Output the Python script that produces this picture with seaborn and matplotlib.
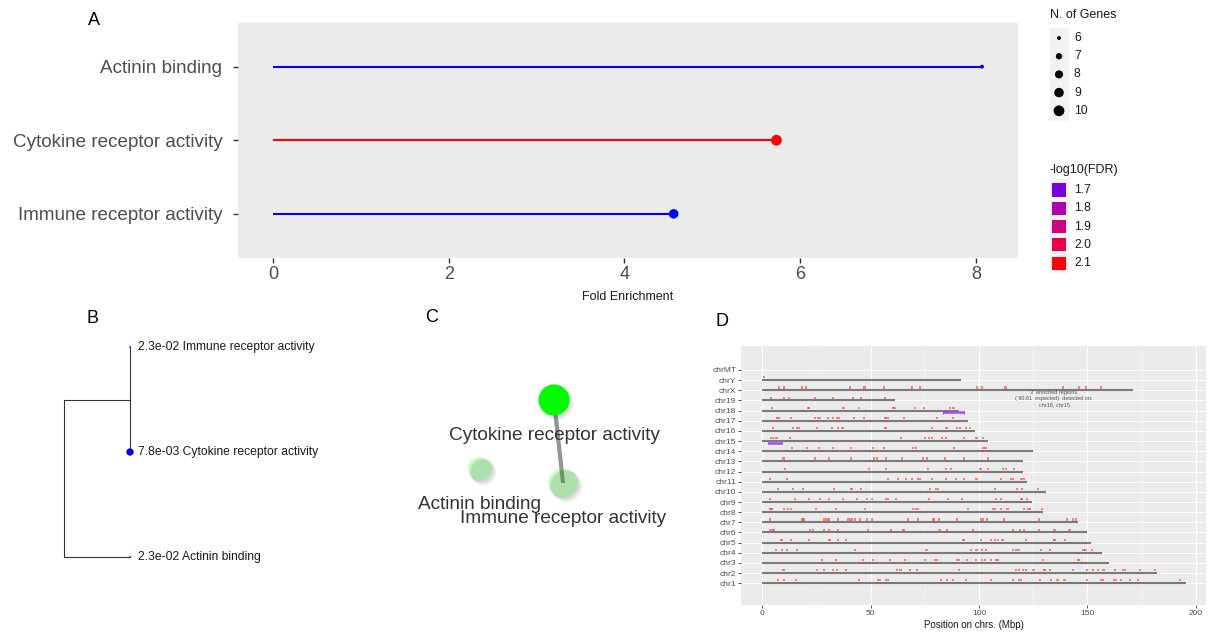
import numpy as np
import pandas as pd
import matplotlib
matplotlib.use("Agg")
import matplotlib.pyplot as plt
import matplotlib.transforms as mtransforms
import seaborn as sns
from matplotlib.colors import ListedColormap, Normalize, to_rgba
from matplotlib.patches import Rectangle

sns.set_theme(style="white")
plt.rcParams["font.family"] = ["Liberation Sans", "DejaVu Sans"]

# ---------------- enrichment results ----------------
terms = ["Actinin binding", "Cytokine receptor activity", "Immune receptor activity"]
fold_enrichment = [8.07, 5.73, 4.56]
n_genes = [6, 10, 9]
fdr = [2.3e-02, 7.8e-03, 2.3e-02]

size_breaks = [6, 7, 8, 9, 10]
color_breaks = [1.7, 1.8, 1.9, 2.0, 2.1]

# hierarchical clustering of terms (leaf order, top to bottom)
tree_terms = ["Immune receptor activity", "Cytokine receptor activity", "Actinin binding"]
tree_fdr = [2.3e-02, 7.8e-03, 2.3e-02]

# term network: layout coordinates and edges
net_terms = ["Cytokine receptor activity", "Actinin binding", "Immune receptor activity"]
net_x = [1.64, 0.90, 1.73]
net_y = [0.30, 0.99, 1.13]
net_genes = [10, 6, 9]
net_fdr = [7.8e-03, 2.3e-02, 2.3e-02]
net_edges = [("Cytokine receptor activity", "Immune receptor activity")]

# ---------------- genome positions (mouse, Mbp) ----------------
chrom_names = ["chr1", "chr2", "chr3", "chr4", "chr5", "chr6", "chr7", "chr8", "chr9",
               "chr10", "chr11", "chr12", "chr13", "chr14", "chr15", "chr16", "chr17",
               "chr18", "chr19", "chrX", "chrY", "chrMT"]
chrom_lengths = [195.47, 182.11, 160.04, 156.51, 151.83, 149.74, 145.44, 129.40, 124.60,
                 130.69, 122.08, 120.13, 120.42, 124.90, 104.04, 98.21, 94.99,
                 90.70, 61.43, 171.03, 91.74, 0.016]

hits_chr1 = [7.2, 10.0, 15.4, 44.6, 53.4, 54.3, 57.1, 58.2, 82.3, 85.1, 87.8, 93.8, 105.4, 115.5,
             118.6, 119.4, 128.3, 133.2, 136.2, 139.4, 149.7, 156.3, 157.1, 162.3, 163.1, 165.4,
             169.7, 173.5, 192.8]
hits_chr2 = [9.8, 25.1, 28.5, 32.8, 34.6, 38.8, 62.0, 63.8, 68.0, 71.5, 90.8, 117.1, 118.3, 120.3,
             121.8, 125.1, 130.0, 130.5, 132.8, 143.5, 149.8, 152.6, 154.8, 157.4, 162.6, 166.6,
             167.4, 174.3, 181.2]
hits_chr3 = [27.5, 34.0, 46.3, 51.1, 58.9, 65.8, 75.1, 79.8, 80.5, 90.0, 90.6, 94.5, 98.6, 101.2,
             102.9, 105.7, 107.8, 108.5, 129.5, 145.5, 146.0]
hits_chr4 = [6.5, 9.2, 11.4, 16.2, 42.9, 75.8, 96.2, 98.8, 101.5, 103.1, 115.8, 117.2, 118.2,
             128.6, 132.6, 148.2, 149.1, 152.0]
hits_chr5 = [8.5, 9.1, 13.2, 21.5, 30.9, 31.4, 34.8, 38.5, 92.5, 93.2, 100.9, 105.5, 107.4, 108.9,
             110.8, 121.5, 134.5, 134.8, 139.7]
hits_chr6 = [3.8, 4.8, 5.5, 22.0, 23.5, 28.5, 30.8, 34.8, 48.9, 59.4, 64.9, 65.4, 81.8, 85.4, 97.1,
             115.8, 118.9, 120.6, 127.8, 134.8, 141.7]
hits_chr7 = [3.4, 18.2, 18.8, 19.4, 28.5, 29.4, 30.3, 30.8, 34.8, 39.4, 40.5, 41.5, 42.8, 45.1,
             48.2, 50.8, 67.1, 71.7, 78.6, 79.4, 81.7, 90.0, 100.8, 101.7, 103.8, 111.5, 127.7,
             140.5, 143.2, 144.6]
hits_chr8 = [3.8, 4.3, 10.0, 11.7, 13.4, 24.9, 34.0, 47.4, 69.7, 70.8, 72.0, 94.8, 106.6, 107.4,
             110.2, 113.1, 120.6, 122.8, 123.5, 129.2]
hits_chr9 = [3.5, 15.2, 21.7, 26.6, 30.8, 37.1, 43.8, 48.2, 50.8, 57.1, 58.2, 61.8, 76.9, 85.7,
             92.2, 107.7, 110.2, 119.2, 119.8, 122.0]
hits_chr10 = [7.1, 14.2, 18.9, 33.1, 40.8, 41.5, 45.5, 77.4, 80.0, 81.2, 107.4, 117.5, 119.8, 127.1]
hits_chr11 = [3.5, 11.5, 58.0, 62.8, 66.2, 69.1, 72.0, 72.8, 78.3, 84.8, 89.4, 93.2, 98.8, 110.2,
              114.9, 115.8, 119.2, 120.5]
hits_chr12 = [10.5, 49.4, 56.9, 76.6, 84.6, 86.9, 100.3, 100.9, 104.2, 111.2, 112.6, 116.0]
hits_chr13 = [9.8, 24.5, 30.6, 40.8, 51.5, 52.9, 56.9, 64.5, 74.0, 76.0, 84.3, 93.0, 104.3]
hits_chr14 = [13.7, 20.6, 26.3, 32.6, 40.8, 51.0, 56.0, 69.5, 70.9, 88.5, 101.8, 103.0]
hits_chr15 = [4.0, 4.8, 6.6, 12.8, 64.0, 74.9, 76.8, 78.5, 82.8, 84.6, 93.0, 98.5, 99.2, 102.0]
hits_chr16 = [4.9, 14.3, 16.2, 17.1, 25.4, 32.0, 35.1, 37.0, 56.5, 56.9, 78.2, 85.0, 90.0, 91.2,
              93.8, 95.8]
hits_chr17 = [6.9, 7.5, 13.1, 24.3, 25.8, 26.8, 30.3, 32.5, 34.3, 35.5, 42.5, 47.0, 56.6, 57.2,
              58.2, 65.5, 80.5, 88.0]
hits_chr18 = [4.6, 21.0, 21.7, 37.5, 44.5, 60.2, 61.0, 70.5, 74.6, 86.6, 88.2]
hits_chr19 = [4.0, 10.0, 12.5, 24.3, 32.5, 41.7, 45.7, 56.8]
hits_chrX = [7.8, 10.0, 18.2, 20.2, 40.5, 47.2, 56.3, 69.2, 72.8, 98.9, 101.2, 112.2, 138.6, 146.0,
             149.4, 156.3]
hits_chrY = [1.0]
hits_chrMT = []

region_chrom = ["chr18", "chr15"]
region_start = [83.5, 2.8]
region_end = [93.0, 9.2]
region_note = "3  enriched regions\n( 90.61  expected)  detected on:\nchr18, chr15"

# ---------------- figure ----------------
W, H = 1215, 635
fig = plt.figure(figsize=(W / 100, H / 100), dpi=100)
fig.patch.set_facecolor("white")


def px_rect(x0, y0, x1, y1):
    return [x0 / W, 1 - y1 / H, (x1 - x0) / W, (y1 - y0) / H]


def _srgb_to_lab(rgb):
    rgb = np.asarray(rgb, float)
    lin = np.where(rgb <= 0.04045, rgb / 12.92, ((rgb + 0.055) / 1.055) ** 2.4)
    xyz = _M @ lin / _WP
    f = np.where(xyz > (6 / 29) ** 3, np.cbrt(xyz), xyz / (3 * (6 / 29) ** 2) + 4 / 29)
    return np.array([116 * f[1] - 16, 500 * (f[0] - f[1]), 200 * (f[1] - f[2])])


def _lab_to_srgb(lab):
    L, a, b = lab
    fy = (L + 16) / 116
    f = np.array([fy + a / 500, fy, fy - b / 200])
    t = np.where(f > 6 / 29, f ** 3, 3 * (6 / 29) ** 2 * (f - 4 / 29))
    lin = np.clip(np.linalg.solve(_M, t * _WP), 0, 1)
    return np.clip(np.where(lin <= 0.0031308, 12.92 * lin, 1.055 * lin ** (1 / 2.4) - 0.055), 0, 1)


_M = np.array([[0.4124, 0.3576, 0.1805], [0.2126, 0.7152, 0.0722], [0.0193, 0.1192, 0.9505]])
_WP = np.array([0.95047, 1.0, 1.08883])
lab_lo, lab_hi = _srgb_to_lab([0, 0, 1]), _srgb_to_lab([1, 0, 0])
cmap = ListedColormap([_lab_to_srgb(lab_lo + t * (lab_hi - lab_lo)) for t in np.linspace(0, 1, 256)])

neglog = -np.log10(np.array(fdr))
norm = Normalize(neglog.min(), neglog.max())
SIZE_RANGE = (8, 60)


def size_of(n):
    return SIZE_RANGE[0] + (n - 6) / 4 * (SIZE_RANGE[1] - SIZE_RANGE[0])


GRAY_BG = "#EBEBEB"
TXT = "#4D4D4D"

# ---------------- A: lollipop chart ----------------
axA = fig.add_axes(px_rect(238, 22.5, 1018, 258))
axA.set_facecolor(GRAY_BG)
dfA = pd.DataFrame({"term": terms, "fold": fold_enrichment, "genes": n_genes,
                    "logfdr": neglog, "y": np.arange(len(terms))})
axA.hlines(dfA["y"], 0, dfA["fold"], colors=[cmap(norm(v)) for v in dfA["logfdr"]],
           lw=1.5, zorder=2)
sns.scatterplot(data=dfA, x="fold", y="y", hue="logfdr", palette=cmap, hue_norm=norm,
                size="genes", sizes=SIZE_RANGE, size_norm=(6, 10), legend=False,
                edgecolor="none", linewidth=0, ax=axA, zorder=3)
axA.set_xlim(-0.40, 8.48)
axA.set_ylim(len(terms) - 0.4, -0.6)
axA.set_yticks(dfA["y"], terms)
axA.set_xticks([0, 2, 4, 6, 8], ["0", "2", "4", "6", "8"])
axA.set_ylabel("")
axA.set_xlabel("Fold Enrichment", fontsize=9, color="#1A1A1A", labelpad=6)
axA.tick_params(axis="y", length=3.3, width=1, color="#333333", labelsize=13.6,
                labelcolor=TXT, pad=8, left=True)
axA.tick_params(axis="x", length=3.3, width=1, color="#333333", labelsize=13,
                labelcolor=TXT, pad=2.5, bottom=True)
axA.grid(False)
for s in axA.spines.values():
    s.set_visible(False)

# legends for panel A
lax = fig.add_axes([0, 0, 1, 1], zorder=5)
lax.set_xlim(0, W)
lax.set_ylim(H, 0)
lax.axis("off")
lax.text(1050, 15, "N. of Genes", fontsize=9, color="#1A1A1A", va="center", ha="left")
lax.add_patch(Rectangle((1050, 28), 18, 92, color="#F2F2F2", zorder=0))
for i, n in enumerate(size_breaks):
    yy = 38 + i * 18.2
    lax.scatter([1059], [yy], s=size_of(n), color="black", edgecolors="none")
    lax.text(1074, yy, str(n), fontsize=8.7, color="#1A1A1A", va="center", ha="left")
lax.text(1049, 170, "-log10(FDR)", fontsize=9, color="#1A1A1A", va="center", ha="left")
lax.add_patch(Rectangle((1050, 179), 18, 93, color="#F2F2F2", zorder=0))
for i, v in enumerate(color_breaks):
    yy = 190 + i * 18.3
    lax.scatter([1059], [yy], s=90, marker="s", color=cmap(norm(v)), edgecolors="none")
    lax.text(1074, yy, f"{v:.1f}", fontsize=8.7, color="#1A1A1A", va="center", ha="left")

# ---------------- B: term dendrogram ----------------
axB = fig.add_axes(px_rect(40, 330, 330, 580))
axB.axis("off")
leaf_y = np.arange(len(tree_terms))
leaf_depth = np.ones(len(tree_terms))
cluster_depth, root_depth = 1.0, 0.0
cluster_y = leaf_y[:2].mean()
line_kw = dict(color="#333333", lw=0.8)
axB.plot([cluster_depth, cluster_depth], [leaf_y[0], leaf_y[1]], **line_kw)
axB.plot([root_depth, cluster_depth], [cluster_y, cluster_y], **line_kw)
axB.plot([root_depth, root_depth], [cluster_y, leaf_y[2]], **line_kw)
axB.plot([root_depth, leaf_depth[2]], [leaf_y[2], leaf_y[2]], **line_kw)
dfB = pd.DataFrame({"x": leaf_depth, "y": leaf_y, "score": -np.log10(tree_fdr)})
sns.scatterplot(data=dfB, x="x", y="y", size="score", sizes=(1.5, 28), color="#0000FF",
                edgecolor="none", legend=False, ax=axB, zorder=3)
for xx, yy, p, t in zip(leaf_depth, leaf_y, tree_fdr, tree_terms):
    axB.annotate(f"{p:.1e} {t}", (xx, yy), xytext=(5.5, 0), textcoords="offset points",
                 va="center", ha="left", fontsize=8.7, color="#1A1A1A")
axB.set_xlim(-0.364, 4.03)
axB.set_ylim(2.219, -0.162)

# ---------------- C: term network ----------------
axC = fig.add_axes(px_rect(390, 370, 710, 540))
axC.axis("off")
axC.set_xlim(0, 3.2)
axC.set_ylim(1.7, 0)
pos = {t: (x, y) for t, x, y in zip(net_terms, net_x, net_y)}
for a, b in net_edges:
    axC.plot([pos[a][0], pos[b][0]], [pos[a][1], pos[b][1]], color="#707070", alpha=0.75,
             lw=3, solid_capstyle="butt", zorder=1)
net_score = -np.log10(np.array(net_fdr))
alphas = 0.2 + 0.8 * (net_score - net_score.min()) / (net_score.max() - net_score.min())
node_sizes = np.array([300 + (g - 6) * 50 for g in net_genes])
for k, off in enumerate([(3.5, -3.5), (2.5, -2.5), (1.5, -1.5)]):
    tr = mtransforms.offset_copy(axC.transData, fig=fig, x=off[0], y=off[1], units="dots")
    axC.scatter(net_x, net_y, s=node_sizes * (1.0 + 0.06 * (2 - k)), color="#000000",
                alpha=0.05, edgecolors="none", transform=tr, zorder=2)
dfC = pd.DataFrame({"x": net_x, "y": net_y, "term": net_terms})
sns.scatterplot(data=dfC, x="x", y="y", s=node_sizes,
                color=[to_rgba("#00FF00", a) for a in alphas], edgecolor="none",
                legend=False, ax=axC, zorder=3)
axC.set_xlabel("")
axC.set_ylabel("")
for t, x, y in zip(net_terms, net_x, net_y):
    axC.annotate(t, (x, y), xytext=(0, -25.5), textcoords="offset points", ha="center",
                 va="center", fontsize=13.7, color="#333333", zorder=4)

# ---------------- D: genomic distribution ----------------
axD = fig.add_axes(px_rect(741, 346, 1206, 605))
axD.set_facecolor(GRAY_BG)
chrom_idx = {c: i for i, c in enumerate(chrom_names)}
hit_lists = [hits_chr1, hits_chr2, hits_chr3, hits_chr4, hits_chr5, hits_chr6, hits_chr7,
             hits_chr8, hits_chr9, hits_chr10, hits_chr11, hits_chr12, hits_chr13, hits_chr14,
             hits_chr15, hits_chr16, hits_chr17, hits_chr18, hits_chr19, hits_chrX, hits_chrY,
             hits_chrMT]
dfD = pd.DataFrame([(c, p) for c, hl in zip(chrom_names, hit_lists) for p in hl],
                   columns=["chrom", "pos"])
dfD["y"] = dfD["chrom"].map(chrom_idx) + 0.28
axD.set_axisbelow(True)
axD.set_xticks([0, 50, 100, 150, 200])
axD.set_xticks([25, 75, 125, 175], minor=True)
axD.set_yticks(range(len(chrom_names)), chrom_names)
axD.grid(True, which="major", color="white", lw=0.7)
axD.grid(True, which="minor", axis="x", color="white", lw=0.35)
axD.hlines(range(len(chrom_names)), 0, chrom_lengths, color="#7A7A7A", lw=1.5, zorder=2)
sns.scatterplot(data=dfD, x="pos", y="y", marker="s", s=2.4, color="#FF2A2A", alpha=0.55,
                edgecolor="none", legend=False, ax=axD, zorder=3)
for c, s0, s1 in zip(region_chrom, region_start, region_end):
    yy = chrom_idx[c] - 0.18
    axD.hlines(yy, s0, s1, color="#A24BF0", lw=1.8, zorder=4)
    axD.vlines([s0, s1], yy - 0.12, yy + 0.12, color="#A24BF0", lw=0.8, zorder=4)
axD.text(134.6, chrom_idx["chrX"] - 0.85, region_note, fontsize=4, color="#555555",
         ha="center", va="center", linespacing=1.3, zorder=5)
axD.set_xlim(-9.8, 204.7)
axD.set_ylim(-2.14, 23.36)
axD.set_xlabel("Position on chrs. (Mbp)", fontsize=7, color="#1A1A1A", labelpad=2)
axD.set_ylabel("")
axD.tick_params(axis="both", which="major", length=2, width=0.6, color="#333333",
                labelsize=6, labelcolor=TXT, pad=1.5, left=True, bottom=True)
axD.tick_params(axis="x", which="minor", length=0)
for s in axD.spines.values():
    s.set_visible(False)

# panel letters
for letter, x, y in [("A", 94, 20.5), ("B", 93, 319), ("C", 432, 318), ("D", 722, 322)]:
    fig.text(x / W, 1 - y / H, letter, fontsize=13, color="black", ha="center", va="center")

fig.savefig("out.png", dpi=100)
